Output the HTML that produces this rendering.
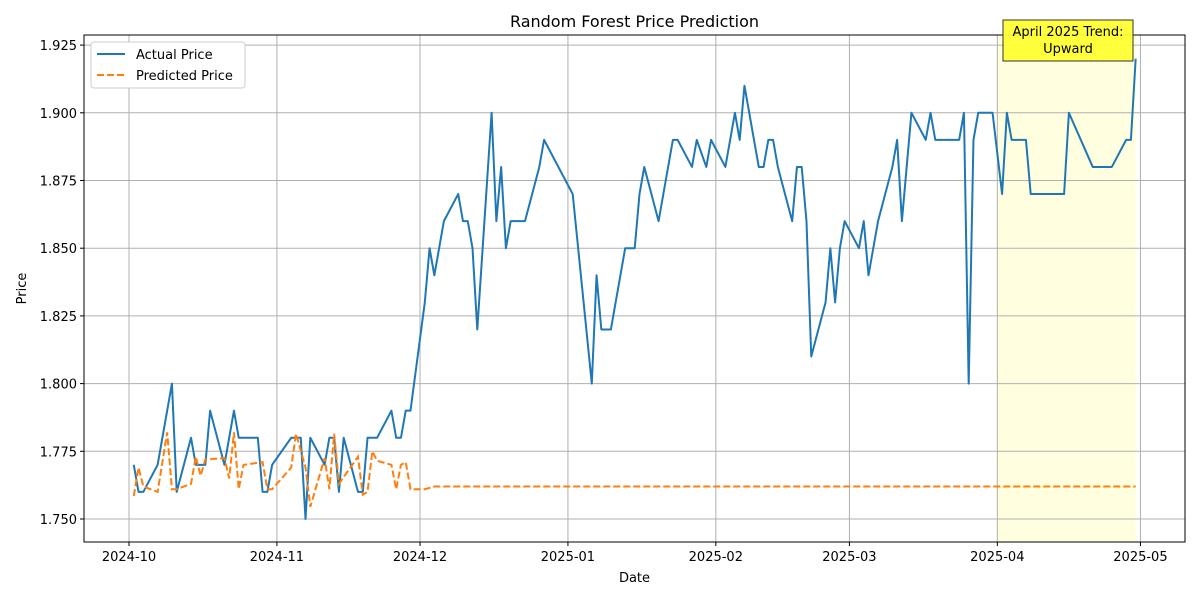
<!DOCTYPE html>
<html><head><meta charset="utf-8"><style>
body{margin:0;background:#fff;}
svg{display:block;font-family:"DejaVu Sans","Liberation Sans",sans-serif;}
</style></head><body>
<svg id="chart" width="1200" height="600" xmlns="http://www.w3.org/2000/svg"></svg>
<script>
// Days since 2024-10-01
const actualDays=[1,2,3,6,9,10,13,14,16,17,20,22,23,27,28,29,30,34,36,37,38,41,42,43,44,45,48,49,50,52,55,56,57,58,59,62,63,64,66,69,70,71,72,73,76,77,78,79,80,83,86,87,93,97,98,99,101,104,106,107,108,111,114,115,118,119,121,122,125,127,128,129,132,133,134,135,136,139,140,141,142,143,146,147,148,149,150,153,154,155,157,160,161,162,164,167,168,169,174,175,176,177,178,181,183,184,185,188,189,196,197,202,206,209,210,211];
const actualPrices=[1.77,1.76,1.76,1.77,1.80,1.76,1.78,1.77,1.77,1.79,1.77,1.79,1.78,1.78,1.76,1.76,1.77,1.78,1.78,1.75,1.78,1.77,1.78,1.78,1.76,1.78,1.76,1.76,1.78,1.78,1.79,1.78,1.78,1.79,1.79,1.83,1.85,1.84,1.86,1.87,1.86,1.86,1.85,1.82,1.90,1.86,1.88,1.85,1.86,1.86,1.88,1.89,1.87,1.80,1.84,1.82,1.82,1.85,1.85,1.87,1.88,1.86,1.89,1.89,1.88,1.89,1.88,1.89,1.88,1.90,1.89,1.91,1.88,1.88,1.89,1.89,1.88,1.86,1.88,1.88,1.86,1.81,1.83,1.85,1.83,1.85,1.86,1.85,1.86,1.84,1.86,1.88,1.89,1.86,1.90,1.89,1.90,1.89,1.89,1.90,1.80,1.89,1.90,1.90,1.87,1.90,1.89,1.89,1.87,1.87,1.90,1.88,1.88,1.89,1.89,1.92];
const predDays=[1,2,3,6,8,9,10,13,14,15,16,20,21,22,23,24,28,29,30,34,35,37,38,41,42,43,44,48,49,50,51,52,55,56,57,58,59,62,64,211];
const predPrices=[1.7585,1.769,1.762,1.760,1.782,1.761,1.761,1.763,1.773,1.766,1.772,1.7725,1.765,1.782,1.761,1.770,1.771,1.761,1.761,1.769,1.7815,1.769,1.7545,1.7725,1.761,1.7815,1.763,1.773,1.759,1.760,1.775,1.7715,1.770,1.761,1.770,1.771,1.761,1.761,1.762,1.762];
const xTickDays=[0,31,61,92,123,151,182,212];
const xTickLabels=["2024-10","2024-11","2024-12","2025-01","2025-02","2025-03","2025-04","2025-05"];
const yTicks=[1.75,1.775,1.8,1.825,1.85,1.875,1.9,1.925];
const shadeStart=182, shadeEnd=211;

const NS="http://www.w3.org/2000/svg";
const svg=document.getElementById('chart');
const L=84,R=1185,T=35,B=542;
const X=d=>129+d*4.771;
const Y=v=>519-(v-1.75)*2708;
function mk(tag,attrs,parent){const e=document.createElementNS(NS,tag);for(const k in attrs)e.setAttribute(k,attrs[k]);(parent||svg).appendChild(e);return e;}

let sh=mk('rect',{x:X(shadeStart),y:T,width:X(shadeEnd)-X(shadeStart),height:B-T,fill:'#ffffe0'});



xTickDays.forEach((d,i)=>{
  const x=X(d);
  let g=mk('line',{x1:x,x2:x,y1:T,y2:B,stroke:'#b0b0b0','stroke-width':1});
  
  
  mk('line',{x1:x,x2:x,y1:B,y2:B+4,stroke:'#000'});
  let t=mk('text',{x:x,y:B+19,'text-anchor':'middle','font-size':13});
  t.textContent=xTickLabels[i];
  
  
});
yTicks.forEach(v=>{
  const y=Y(v);
  let g=mk('line',{x1:L,x2:R,y1:y,y2:y,stroke:'#b0b0b0','stroke-width':1});
  
  
  mk('line',{x1:L-4,x2:L,y1:y,y2:y,stroke:'#000'});
  let t=mk('text',{x:L-7,y:y+5,'text-anchor':'end','font-size':13});
  t.textContent=v.toFixed(3);
  
  
});

let pa=mk('polyline',{points:actualDays.map((d,i)=>X(d)+','+Y(actualPrices[i])).join(' '),fill:'none',stroke:'#1f77b4','stroke-width':2,'stroke-linejoin':'round'});


let pp=mk('polyline',{points:predDays.map((d,i)=>X(d)+','+Y(predPrices[i])).join(' '),fill:'none',stroke:'#ff7f0e','stroke-width':2,'stroke-dasharray':'7,3'});



let fr=mk('rect',{x:L,y:T,width:R-L,height:B-T,fill:'none',stroke:'#000','stroke-width':1});



let ti=mk('text',{x:(L+R)/2,y:27,'text-anchor':'middle','font-size':16});
ti.textContent='Random Forest Price Prediction';


let xl=mk('text',{x:(L+R)/2,y:582,'text-anchor':'middle','font-size':13});
xl.textContent='Date';


let yl=mk('text',{x:26,y:(T+B)/2,'text-anchor':'middle','font-size':13,transform:'rotate(-90 26 '+((T+B)/2)+')'});
yl.textContent='Price';



// legend
let lg=mk('g',{});


mk('rect',{x:91,y:42,width:154,height:46,rx:3,fill:'#fff',stroke:'#ccc'},lg);
mk('line',{x1:97,x2:125,y1:54,y2:54,stroke:'#1f77b4','stroke-width':2},lg);
mk('line',{x1:97,x2:125,y1:75,y2:75,stroke:'#ff7f0e','stroke-width':2,'stroke-dasharray':'7,3'},lg);
let l1=mk('text',{x:136,y:59,'font-size':13},lg);l1.textContent='Actual Price';


let l2=mk('text',{x:136,y:80,'font-size':13},lg);l2.textContent='Predicted Price';



// annotation
let an=mk('g',{});


mk('rect',{x:1003,y:20,width:130,height:41,fill:'#ffff33','fill-opacity':0.95,stroke:'#333','stroke-width':1},an);
let a1=mk('text',{x:1068,y:36,'text-anchor':'middle','font-size':13},an);a1.textContent='April 2025 Trend:';
let a2=mk('text',{x:1068,y:53,'text-anchor':'middle','font-size':13},an);a2.textContent='Upward';
</script>
</body></html>
